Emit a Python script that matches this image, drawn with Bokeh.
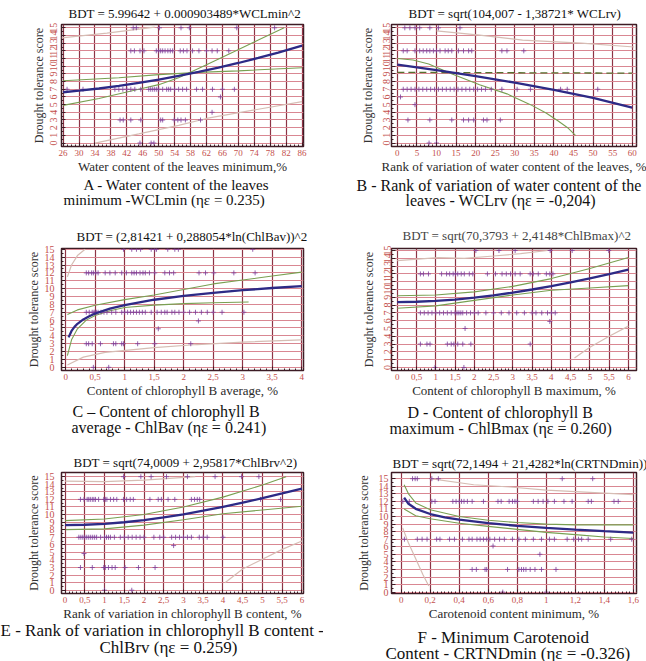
import numpy as np
from bokeh.plotting import figure
from bokeh.models import Range1d, FixedTicker, Title
from bokeh.layouts import gridplot
from bokeh.embed import file_html
from bokeh.resources import INLINE

SERIF = "Liberation Serif"
TICK_RED = "#c4504c"
VGRID = "#8e3446"
HGRID = "#d98792"
FRAME = "#3d1c25"
FIT_BLUE = "#2d2a86"
CONF_GREEN = "#79a052"
CONF_DARK = "#55712f"
PRED_GRAY = "#d6bdb4"
POINT = "#7e3f9a"

Y_TICKS = list(range(16))
Y_LABELS = [str(v) for v in Y_TICKS]

# ---------------- Panel A : WCLmin ----------------
A_XTICKS = [26, 30, 34, 38, 42, 46, 50, 54, 58, 62, 66, 70, 74, 78, 82, 86]
A_XLABELS = [str(v) for v in A_XTICKS]
A_X15 = [43.6, 44.4, 50.2, 55.6, 57.7, 69.6, 79.1]
A_X12 = [43.0, 43.9, 45.3, 46.3, 49.4, 50.0, 50.5, 51.0, 51.6, 52.3, 52.9, 53.5, 55.4, 56.2, 57.1,
         58.5, 60.1, 62.0, 63.4, 64.7, 67.6]
A_X7 = [27, 31, 39, 40, 41, 42, 43, 44, 45.5, 47.5, 48, 48.5, 49, 49.5, 50, 51, 52, 52.5, 53, 54, 55,
        56, 57, 59.5, 61, 63.5, 66, 69]
A_X3 = [40.3, 41.1, 43.0, 45.5, 50.5, 51.0, 53.9, 54.8, 55.6, 56.7, 60.5]
A_X0 = [45.3, 48.1, 48.8]
A_EXTRA_X = [65.5, 63.4]
A_EXTRA_Y = [6, 4]
A_FIT_X = [26, 30, 35, 40, 45, 50, 55, 60, 65, 70, 75, 80, 86]
A_FIT_Y = [6.61, 6.81, 7.10, 7.44, 7.83, 8.26, 8.73, 9.25, 9.81, 10.42, 11.08, 11.78, 12.68]
A_C1_X = [26, 35, 45, 50, 55, 62, 69, 75, 81.5]
A_C1_Y = [4.9, 5.8, 7.0, 7.6, 8.5, 10.2, 11.9, 13.4, 15.0]
A_C2_X = [26, 40, 50, 60, 70, 86]
A_C2_Y = [8.1, 8.5, 8.9, 9.2, 9.4, 9.8]
A_P1_X = [25.6, 37, 49]
A_P1_Y = [13.7, 14.3, 15.1]
A_P2_X = [34, 45, 55, 62, 75, 86]
A_P2_Y = [0.0, 1.2, 2.3, 3.2, 4.4, 5.4]

# ---------------- Panel B : WCLrv ----------------
B_XTICKS = [0, 5, 10, 15, 20, 25, 30, 35, 40, 45, 50, 55, 60]
B_XLABELS = [str(v) for v in B_XTICKS]
B_X15 = [1.9, 3.2, 4.5, 5.7, 8.3, 10.5, 16.0]
B_X12 = [1.5, 2.5, 4.5, 5.7, 6.6, 7.5, 8.3, 9.2, 10.0, 10.9, 12.2, 13.0, 13.9, 15.6, 16.9, 18.2, 19.0,
         26.7, 28.0, 32.3]
B_X7 = [1.5, 2.5, 3.5, 4.5, 5.5, 6.5, 7.5, 8.5, 9.5, 10.5, 11.5, 12.5, 13.5, 14.5, 15.5, 16.5, 17.5,
        18.5, 19.5, 20.5, 21.5, 22.5, 24.0, 26.7, 30.6, 34.0, 41.7, 43.4, 51.2]
B_X3 = [2.7, 8.3, 13.9, 16.9, 18.2, 19.5, 22.0, 22.9, 26.3]
B_X0 = [8.1, 10.0]
B_EXTRA_X = [0.8, 4.5]
B_EXTRA_Y = [6, 5]
B_FIT_X = [0, 10, 20, 30, 40, 50, 60]
B_FIT_Y = [10.20, 9.48, 8.71, 7.86, 6.93, 5.88, 4.61]
B_C1_X = [0, 4, 8, 14, 21, 28, 34, 38, 41, 43.5, 45.5]
B_C1_Y = [11.0, 10.8, 10.3, 9.0, 7.6, 6.4, 5.0, 3.9, 2.9, 2.0, 1.0]
B_C2_X = [0, 60]
B_C2_Y = [9.2, 9.1]
B_P1_X = [10, 21, 32, 47, 60.5]
B_P1_Y = [14.6, 14.05, 13.4, 13.0, 12.5]

# ---------------- Panel C : ChlBav ----------------
C_XTICKS = [0, 0.5, 1, 1.5, 2, 2.5, 3, 3.5, 4]
C_XLABELS = ["0", "0,5", "1", "1,5", "2", "2,5", "3", "3,5", "4"]
C_X15 = [0.98, 1.12, 1.2, 1.27, 1.45, 1.51, 1.54, 1.73, 1.85, 1.91, 3.17]
C_X12 = [0.35, 0.39, 0.44, 0.47, 0.51, 0.55, 0.67, 0.75, 0.84, 0.95, 1.03, 1.12, 1.16, 1.2, 1.26, 1.31,
         1.35, 1.42, 1.51, 1.68, 1.76, 1.83, 2.26, 2.37, 2.51, 2.85, 3.21]
C_X7 = [0.35, 0.4, 0.45, 0.48, 0.5, 0.52, 0.55, 0.6, 0.65, 0.7, 0.78, 0.85, 0.95, 1.0, 1.05, 1.1, 1.15,
        1.2, 1.25, 1.3, 1.35, 1.45, 1.55, 1.62, 1.68, 1.72, 1.8, 1.85, 1.92, 2.0, 2.1, 2.2, 2.3, 2.4,
        2.5, 2.65, 3.02]
C_X3 = [0.35, 0.39, 0.45, 0.59, 0.81, 0.85, 0.95, 0.98, 1.22, 1.51, 2.12]
C_X0 = [0.47, 0.73]
C_EXTRA_X = [2.25, 1.57]
C_EXTRA_Y = [5.9, 4.9]
C_FIT_X = [0.05, 0.1, 0.15, 0.2, 0.3, 0.4, 0.5, 0.75, 1, 1.5, 2, 2.5, 3, 3.5, 4]
C_FIT_Y = [3.81, 4.63, 5.14, 5.53, 6.09, 6.50, 6.84, 7.46, 7.92, 8.59, 9.08, 9.47, 9.80, 10.08, 10.33]
C_C1_X = [0.03, 0.2, 0.5, 1, 1.5, 2, 2.5, 3, 3.5, 4]
C_C1_Y = [6.7, 7.3, 7.9, 8.6, 9.2, 9.9, 10.6, 11.1, 11.6, 12.1]
C_C2_X = [0.03, 0.1, 0.2, 0.35, 0.5, 0.75, 1, 1.5, 2, 2.5, 3.1]
C_C2_Y = [1.5, 3.5, 4.9, 6.0, 6.6, 7.2, 7.6, 7.9, 8.1, 8.2, 8.3]
C_P1_X = [0.03, 0.1, 0.2, 0.33]
C_P1_Y = [11.5, 13.0, 14.2, 15.0]
C_P2_X = [0.03, 0.3, 0.67, 1.5, 2.23, 3, 4]
C_P2_Y = [0.3, 1.3, 1.9, 2.5, 2.9, 3.2, 3.5]

# ---------------- Panel D : ChlBmax ----------------
D_XTICKS = [0, 0.5, 1, 1.5, 2, 2.5, 3, 3.5, 4, 4.5, 5, 5.5, 6]
D_XLABELS = ["0", "0,5", "1", "1,5", "2", "2,5", "3", "3,5", "4", "4,5", "5", "5,5", "6"]
D_X15 = [2.04, 2.64, 3.06, 3.97, 4.54, 5.49]
D_X12 = [0.6, 0.68, 0.81, 1.15, 1.28, 1.36, 1.45, 1.51, 1.57, 1.66, 1.74, 1.87, 1.96, 2.34, 2.55, 2.72,
         2.83, 2.94, 3.06, 3.19, 3.45, 3.53, 3.66, 3.87, 3.96, 4.04]
D_X7 = [0.6, 0.7, 0.8, 0.9, 1.0, 1.1, 1.2, 1.3, 1.4, 1.5, 1.55, 1.6, 1.65, 1.7, 1.8, 1.9, 2.0, 2.1, 2.3,
        2.5, 2.7, 2.9, 3.1, 3.3, 3.5, 3.6, 3.75, 3.9, 4.0, 4.1]
D_X3 = [0.6, 0.77, 0.85, 1.3, 1.4, 1.47, 1.57, 1.7, 1.91, 3.45]
D_X0 = [0.98, 1.73]
D_EXTRA_X = [3.96, 1.76]
D_EXTRA_Y = [5.9, 5.0]
D_FIT_X = [0, 0.5, 1, 1.5, 2, 2.5, 3, 3.5, 4, 4.5, 5, 5.5, 6]
D_FIT_Y = [8.39, 8.43, 8.53, 8.71, 8.95, 9.25, 9.60, 10.00, 10.44, 10.92, 11.43, 11.98, 12.54]
D_C1_X = [0, 1, 2, 3, 4, 5, 6]
D_C1_Y = [9.2, 9.3, 9.7, 10.4, 11.4, 12.7, 14.1]
D_C2_X = [0, 1, 2, 3, 4, 5, 6]
D_C2_Y = [7.6, 7.9, 8.6, 9.3, 9.9, 10.2, 10.5]
D_P1_X = [0, 1.06, 1.74, 2.5, 3.2, 3.9]
D_P1_Y = [13.7, 14.1, 14.0, 14.3, 14.6, 15.0]
D_P2_X = [4.6, 5, 5.5, 6]
D_P2_Y = [1.2, 2.6, 4.0, 5.3]

# ---------------- Panel E : ChlBrv ----------------
E_XTICKS = [0, 0.5, 1, 1.5, 2, 2.5, 3, 3.5, 4, 4.5, 5, 5.5, 6]
E_XLABELS = ["0", "0,5", "1", "1,5", "2", "2,5", "3", "3,5", "4", "4,5", "5", "5,5", "6"]
E_X15 = [1.48, 1.92, 2.18, 2.57, 3.1, 3.8, 4.47, 4.91]
E_X12 = [0.39, 0.48, 0.56, 0.6, 0.64, 0.69, 0.73, 0.77, 0.85, 0.98, 1.02, 1.06, 1.15, 1.23, 1.31, 1.48,
         1.56, 1.65, 1.73, 2.15, 2.36, 2.44, 2.61, 2.78, 3.2, 3.28, 3.35, 3.41, 4.95, 5.46]
E_X7 = [0.35, 0.4, 0.45, 0.5, 0.55, 0.6, 0.65, 0.7, 0.75, 0.8, 0.9, 1.0, 1.05, 1.1, 1.15, 1.25, 1.4,
        1.5, 1.6, 1.7, 1.8, 1.9, 2.0, 2.25, 2.4, 2.5, 2.7, 2.8, 2.9, 3.0, 3.1, 3.2, 3.4, 3.5, 3.6, 4.0]
E_X3 = [0.39, 0.69, 0.98, 1.02, 1.1, 1.19, 1.27, 1.52, 1.86, 2.28]
E_X0 = [1.0, 1.69]
E_EXTRA_X = [2.75, 0.48]
E_EXTRA_Y = [5.9, 4.85]
E_FIT_X = [0, 0.5, 1, 1.5, 2, 2.5, 3, 3.5, 4, 4.5, 5, 5.5, 6]
E_FIT_Y = [8.60, 8.65, 8.77, 8.98, 9.26, 9.62, 10.03, 10.50, 11.01, 11.57, 12.16, 12.79, 13.43]
E_C1_X = [0, 1, 2, 3, 4, 5, 5.6]
E_C1_Y = [9.2, 9.4, 10.0, 11.0, 12.3, 13.9, 15.0]
E_C2_X = [0, 1, 2, 3, 4, 5, 6]
E_C2_Y = [8.0, 8.1, 8.6, 9.3, 10.1, 10.6, 11.1]
E_P1_X = [0, 1, 2, 3.3]
E_P1_Y = [14.4, 14.35, 14.55, 15.0]
E_P2_X = [4.05, 4.5, 5, 5.5, 6]
E_P2_Y = [1.0, 2.8, 4.1, 5.4, 6.5]

# ---------------- Panel F : CRTNDmin ----------------
F_XTICKS = [0, 0.2, 0.4, 0.6, 0.8, 1, 1.2, 1.4, 1.6]
F_XLABELS = ["0", "0,2", "0,4", "0,6", "0,8", "1", "1,2", "1,4", "1,6"]
F_X15 = [0.078, 0.096, 0.111, 0.211, 0.256, 1.11, 1.32]
F_X12 = [0.011, 0.056, 0.211, 0.233, 0.356, 0.378, 0.4, 0.416, 0.433, 0.456, 0.489, 0.567, 0.667,
         0.689, 0.744, 0.767, 0.784, 0.8, 0.911, 0.944, 0.978, 1.011, 1.056, 1.122, 1.178, 1.289,
         1.311, 1.467, 1.496]
F_X7 = [0.022, 0.111, 0.144, 0.178, 0.244, 0.267, 0.333, 0.367, 0.422, 0.467, 0.489, 0.522, 0.544,
        0.567, 0.589, 0.611, 0.644, 0.678, 0.711, 0.767, 0.811, 0.856, 0.911, 0.967, 1.022, 1.056,
        1.144, 1.189, 1.222, 1.244, 1.289, 1.444, 1.589]
F_X3 = [0.489, 0.518, 0.578, 0.589, 0.733, 0.811, 0.829, 0.844, 0.86, 0.889, 0.922, 0.967, 1.067]
F_X0 = [0.7, 1.0]
F_EXTRA_X = [0.633, 0.956]
F_EXTRA_Y = [6.1, 5.0]
F_FIT_X = [0.02, 0.05, 0.1, 0.2, 0.3, 0.4, 0.6, 0.8, 1.0, 1.2, 1.4, 1.6]
F_FIT_Y = [12.49, 11.68, 11.02, 10.33, 9.90, 9.58, 9.12, 8.77, 8.49, 8.26, 8.06, 7.88]
F_C1_X = [0.02, 0.05, 0.1, 0.2, 0.4, 0.6, 0.8, 1.0, 1.2, 1.4, 1.6]
F_C1_Y = [14.2, 13.0, 11.8, 10.9, 10.0, 9.5, 9.2, 9.0, 8.9, 8.9, 8.9]
F_C2_X = [0.02, 0.1, 0.2, 0.4, 0.6, 0.8, 1.0, 1.2, 1.4, 1.6]
F_C2_Y = [11.0, 10.1, 9.7, 9.1, 8.7, 8.3, 7.9, 7.6, 7.3, 7.1]
F_P1_X = [0.2, 0.5, 0.75, 1.0, 1.3, 1.6]
F_P1_Y = [15.0, 14.2, 13.9, 13.5, 13.2, 12.9]
F_P2_X = [0.01, 0.05, 0.1, 0.15, 0.19]
F_P2_Y = [8.5, 6.5, 4.4, 2.3, 0.8]

# approximate advance widths of a Times-metric serif (per 1000 em), used to place centred texts
TW = {' ': 250, '!': 333, '(': 333, ')': 333, '*': 500, '+': 564, ',': 250, '-': 333, '.': 250,
      '/': 278, ':': 278, '=': 564, '%': 833, '^': 469, '–': 500, 'η': 500, 'ε': 439,
      'A': 722, 'B': 667, 'C': 667, 'D': 722, 'E': 611, 'F': 556, 'G': 722, 'H': 722, 'I': 333,
      'J': 389, 'K': 722, 'L': 611, 'M': 889, 'N': 722, 'O': 722, 'P': 556, 'Q': 722, 'R': 667,
      'S': 556, 'T': 611, 'U': 722, 'V': 722, 'W': 944, 'X': 722, 'Y': 722, 'Z': 611,
      'a': 444, 'b': 500, 'c': 444, 'd': 500, 'e': 444, 'f': 333, 'g': 500, 'h': 500, 'i': 278,
      'j': 278, 'k': 500, 'l': 278, 'm': 778, 'n': 500, 'o': 500, 'p': 500, 'q': 500, 'r': 333,
      's': 389, 't': 278, 'u': 500, 'v': 500, 'w': 722, 'x': 500, 'y': 500, 'z': 444}


def text_w(s, size):
    return sum(TW.get(ch, 500) for ch in s) * size / 1000.0


def rows(x15, x12, x7, x3, x0, ex, ey):
    xs = x15 + x12 + x7 + x3 + x0 + ex
    ys = [15] * len(x15) + [12] * len(x12) + [7] * len(x7) + [3] * len(x3) + [0] * len(x0) + ey
    return xs, ys


def set_standoff(t, v):
    try:
        t.standoff = v
    except Exception:
        t.standoff = max(v, 0)


AXIS_H = 28


def panel(s):
    L, R, T, B = s["border"]
    p = figure(width=323, height=s["h"], x_range=Range1d(*s["xr"]), y_range=Range1d(*s["yr"]),
               output_backend="svg", toolbar_location=None,
               min_border_left=L, min_border_right=R, min_border_top=T, min_border_bottom=B)
    p.background_fill_color = "white"
    p.border_fill_color = "white"
    p.outline_line_color = FRAME
    p.outline_line_width = 1.5

    xt = s["xticks"]
    xmin = np.arange(xt[0], xt[-1] + 1e-9, s["xminor"]).tolist()
    ymin = np.arange(0, 15.01, 0.5).tolist()

    xa = p.xaxis[0]
    xa.ticker = FixedTicker(ticks=xt, minor_ticks=xmin)
    xa.major_label_overrides = {float(v): lab for v, lab in zip(xt, s["xlabels"])}
    xa.axis_label = s["xlabel"]
    xa.axis_label_text_font = SERIF
    xa.axis_label_text_font_size = "13px"
    xa.axis_label_text_font_style = "normal"
    xa.axis_label_text_color = "#2a2a2a"
    xa.axis_label_standoff = 0
    xa.major_label_text_font = SERIF
    xa.major_label_text_font_size = "9px"
    xa.major_label_text_color = TICK_RED
    xa.major_label_standoff = 3
    xa.major_tick_in = 4
    xa.major_tick_out = 0
    xa.minor_tick_in = 2
    xa.minor_tick_out = 0
    xa.axis_line_color = None
    xa.major_tick_line_color = FRAME
    xa.minor_tick_line_color = FRAME

    ya = p.yaxis[0]
    ya.ticker = FixedTicker(ticks=Y_TICKS, minor_ticks=ymin)
    ya.major_label_overrides = {float(v): lab for v, lab in zip(Y_TICKS, Y_LABELS)}
    ya.axis_label = "Drought tolerance score"
    ya.axis_label_text_font = SERIF
    ya.axis_label_text_font_size = "12px"
    ya.axis_label_text_font_style = "normal"
    ya.axis_label_text_color = "#333333"
    ya.axis_label_standoff = s["ylab_so"]
    ya.major_label_text_font = SERIF
    ya.major_label_text_font_size = "10px"
    ya.major_label_text_color = TICK_RED
    ya.major_label_standoff = s["ytick_so"]
    if s["yvert"]:
        ya.major_label_orientation = "vertical"
    ya.major_tick_in = 4
    ya.major_tick_out = 0
    ya.minor_tick_in = 2
    ya.minor_tick_out = 0
    ya.axis_line_color = None
    ya.major_tick_line_color = FRAME
    ya.minor_tick_line_color = FRAME

    p.xgrid.ticker = FixedTicker(ticks=xt)
    p.ygrid.ticker = FixedTicker(ticks=Y_TICKS)
    p.xgrid.grid_line_color = VGRID
    p.xgrid.grid_line_width = 1.2
    p.ygrid.grid_line_color = HGRID
    p.ygrid.grid_line_width = 1

    for (lx, ly) in s["pred"]:
        p.line(lx, ly, line_color=PRED_GRAY, line_width=1.2)
    for (lx, ly) in s["conf"]:
        p.line(lx, ly, line_color=CONF_GREEN, line_width=1.1)
    if s.get("dash"):
        lx, ly = s["dash"]
        p.line(lx, ly, line_color=CONF_DARK, line_width=1.3, line_dash="7 4")
    px, py = s["pts"]
    p.scatter(px, py, marker="cross", size=5, line_color=POINT, line_width=1, line_alpha=0.8)
    fx, fy = s["fit"]
    p.line(fx, fy, line_color=FIT_BLUE, line_width=2.3)

    # title above the frame
    tsz = s["title_size"]
    tdx, tdy = s["title_pos"]          # centre x from frame left, centre y above frame top
    tt = p.title
    tt.text = s["title"]
    tt.align = "left"
    tt.offset = round(tdx - text_w(s["title"], tsz) / 2)
    tt.vertical_align = "middle"
    tt.text_font = SERIF
    tt.text_font_size = f"{tsz}px"
    tt.text_font_style = "normal"
    tt.text_color = s.get("title_color", "#111111")
    set_standoff(tt, round(2 * tdy - 2 - 1.15 * tsz))

    # two caption lines under the axis
    csz = s["cap_size"]
    ch = 1.13 * csz
    (c1x, c1y), (c2x, c2y) = s["cap_pos"]   # centre x from frame left, centre y below frame
    s1 = 2 * (c1y - AXIS_H)
    s2 = 2 * (c2y - AXIS_H - s1)
    for text, cx, size in ((s["cap"][0], c1x, s1), (s["cap"][1], c2x, s2)):
        t = Title(text=text, align="left", offset=round(cx - text_w(text, csz) / 2),
                  vertical_align="middle", text_font=SERIF, text_font_size=f"{csz}px",
                  text_font_style="normal", text_color="#111111")
        set_standoff(t, round(size - 2 - ch))
        p.add_layout(t, "below")
    return p


pA = panel(dict(h=220, border=(61, 20, 24, 74), xr=(25.6, 86.35), yr=(-0.45, 15.43),
                xticks=A_XTICKS, xlabels=A_XLABELS, xminor=1,
                xlabel="Water content of the leaves minimum,%", yvert=True, ytick_so=4, ylab_so=2,
                pts=rows(A_X15, A_X12, A_X7, A_X3, A_X0, A_EXTRA_X, A_EXTRA_Y),
                fit=(A_FIT_X, A_FIT_Y), conf=[(A_C1_X, A_C1_Y), (A_C2_X, A_C2_Y)],
                pred=[(A_P1_X, A_P1_Y), (A_P2_X, A_P2_Y)],
                title="BDT = 5.99642 + 0.000903489*WCLmin^2", title_pos=(123, 11.3), title_size=13,
                cap=["A - Water content of the leaves", "minimum -WCLmin (ηε = 0.235)"],
                cap_size=15, cap_pos=[(115.7, 36.8), (103, 52.8)]))

pB = panel(dict(h=220, border=(68, 10, 24, 74), xr=(-1.5, 61.1), yr=(-0.45, 15.43),
                xticks=B_XTICKS, xlabels=B_XLABELS, xminor=1,
                xlabel="Rank of variation of water content of the leaves, %", yvert=True, ytick_so=1,
                ylab_so=6,
                pts=rows(B_X15, B_X12, B_X7, B_X3, B_X0, B_EXTRA_X, B_EXTRA_Y),
                fit=(B_FIT_X, B_FIT_Y), conf=[(B_C1_X, B_C1_Y)], dash=(B_C2_X, B_C2_Y),
                pred=[(B_P1_X, B_P1_Y)],
                title="BDT = sqrt(104,007 - 1,38721* WCLrv)", title_pos=(123.7, 11.3), title_size=13,
                cap=["B - Rank of variation of water content of the", "leaves - WCLrv (ηε = -0,204)"],
                cap_size=16, cap_pos=[(107, 37.7), (109, 54)]))

pC = panel(dict(h=220, border=(60, 20, 27, 70), xr=(-0.07, 4.03), yr=(-0.4, 15.1),
                xticks=C_XTICKS, xlabels=C_XLABELS, xminor=0.1,
                xlabel="Content of chlorophyll B average, %", yvert=False, ytick_so=7, ylab_so=1,
                pts=rows(C_X15, C_X12, C_X7, C_X3, C_X0, C_EXTRA_X, C_EXTRA_Y),
                fit=(C_FIT_X, C_FIT_Y), conf=[(C_C1_X, C_C1_Y), (C_C2_X, C_C2_Y)],
                pred=[(C_P1_X, C_P1_Y), (C_P2_X, C_P2_Y)],
                title="BDT = (2,81421 + 0,288054*ln(ChlBav))^2", title_pos=(130, 12), title_size=13,
                cap=["C – Content of chlorophyll B", "average - ChlBav (ηε = 0.241)"],
                cap_size=16, cap_pos=[(105, 39.3), (107.5, 56)]))

pD = panel(dict(h=220, border=(67, 8, 28, 70), xr=(-0.15, 6.21), yr=(-0.39, 15.26),
                xticks=D_XTICKS, xlabels=D_XLABELS, xminor=0.1,
                xlabel="Content of chlorophyll B maximum, %", yvert=True, ytick_so=0, ylab_so=6,
                pts=rows(D_X15, D_X12, D_X7, D_X3, D_X0, D_EXTRA_X, D_EXTRA_Y),
                fit=(D_FIT_X, D_FIT_Y), conf=[(D_C1_X, D_C1_Y), (D_C2_X, D_C2_Y)],
                pred=[(D_P1_X, D_P1_Y), (D_P2_X, D_P2_Y)],
                title="BDT = sqrt(70,3793 + 2,4148*ChlBmax)^2", title_pos=(125.5, 13), title_size=13,
                title_color="#444444",
                cap=["D - Content of chlorophyll B", "maximum - ChlBmax (ηε = 0.260)"],
                cap_size=16, cap_pos=[(109, 40), (109, 57.3)]))

pE = panel(dict(h=221, border=(61, 20, 32, 64), xr=(-0.09, 6.04), yr=(-0.43, 15.55),
                xticks=E_XTICKS, xlabels=E_XLABELS, xminor=0.1,
                xlabel="Rank of variation in chlorophyll B content, %", yvert=False, ytick_so=7, ylab_so=1,
                pts=rows(E_X15, E_X12, E_X7, E_X3, E_X0, E_EXTRA_X, E_EXTRA_Y),
                fit=(E_FIT_X, E_FIT_Y), conf=[(E_C1_X, E_C1_Y), (E_C2_X, E_C2_Y)],
                pred=[(E_P1_X, E_P1_Y), (E_P2_X, E_P2_Y)],
                title="BDT = sqrt(74,0009 + 2,95817*ChlBrv^2)", title_pos=(124, 10.3), title_size=13,
                cap=["E - Rank of variation in chlorophyll B content -", "ChlBrv (ηε = 0.259)"],
                cap_size=17, cap_pos=[(101, 35), (107, 51.6)]))

pF = panel(dict(h=221, border=(60, 10, 28, 68), xr=(-0.067, 1.622), yr=(-0.18, 15.82),
                xticks=F_XTICKS, xlabels=F_XLABELS, xminor=0.025,
                xlabel="Carotenoid content minimum, %", yvert=False, ytick_so=3, ylab_so=5,
                pts=rows(F_X15, F_X12, F_X7, F_X3, F_X0, F_EXTRA_X, F_EXTRA_Y),
                fit=(F_FIT_X, F_FIT_Y), conf=[(F_C1_X, F_C1_Y), (F_C2_X, F_C2_Y)],
                pred=[(F_P1_X, F_P1_Y), (F_P2_X, F_P2_Y)],
                title="BDT = sqrt(72,1494 + 21,4282*ln(CRTNDmin))", title_pos=(129, 9.7), title_size=13,
                cap=["F - Minimum Carotenoid", "Content - CRTNDmin (ηε = -0.326)"],
                cap_size=17, cap_pos=[(111.7, 42.3), (117, 58)]))

grid = gridplot([[pA, pB], [pC, pD], [pE, pF]], toolbar_location=None)

open("out.html", "w").write(file_html(grid, INLINE))
